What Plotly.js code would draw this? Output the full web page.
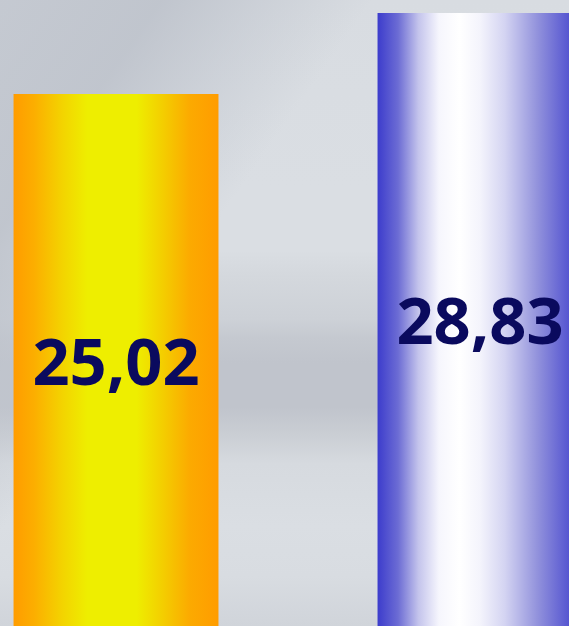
<!DOCTYPE html>
<html>
<head>
<meta charset="utf-8">
<script src="https://cdn.plot.ly/plotly-3.0.1.min.js"></script>
<style>
html,body{margin:0;padding:0;overflow:hidden;width:569px;height:626px;}
#chart{width:569px;height:626px;
background:
 linear-gradient(125deg, rgba(190,195,204,0.75) 0%, rgba(188,193,202,0.85) 16%, rgba(192,197,206,0.5) 26%, rgba(192,197,206,0) 37%),
 linear-gradient(180deg,#d8dce1 0%,#dadee3 30%,#dadee3 40%,#d4d8dd 44%,#cdd1d7 51%,#c5c9d0 54%,#c0c4cc 58%,#c0c4cc 65%,#c9cdd3 69%,#d6dadf 74%,#dadee3 84%,#d8dce1 92%,#d0d4da 100%);}
</style>
</head>
<body>
<div id="chart"></div>
<script>
var categories = ["A", "B"];
var values = [25.02, 28.83];
var labels = ["25,02", "28,83"];

var gradients = [
  [[0,"#ff9c00"],[0.1,"#fcae00"],[0.24,"#f3d400"],[0.36,"#eeee00"],[0.6,"#eeee00"],[0.72,"#f3d000"],[0.86,"#fcaa00"],[1,"#ff9c00"]],
  [[0,"#3c3ccc"],[0.1,"#6c6cd4"],[0.2,"#c4c4ec"],[0.3,"#f6f6fd"],[0.4,"#ffffff"],[0.5,"#f4f4fc"],[0.62,"#d4d4f2"],[0.78,"#9292dc"],[1,"#3c3ccc"]]
];

var trace = {
  type: "bar",
  x: categories,
  y: values,
  text: labels,
  textposition: "inside",
  insidetextanchor: "middle",
  textangle: 0,
  constraintext: "none",
  insidetextfont: {family: "Noto Sans, Open Sans, sans-serif", size: 65, color: "#0a0a5e", weight: "bold"},
  marker: {color: ["#ffa000", "#3c3ccc"], line: {width: 0}},
  hoverinfo: "none"
};

var layout = {
  width: 569, height: 626,
  margin: {l: 0, r: 0, t: 0, b: 0, pad: 0},
  paper_bgcolor: "rgba(0,0,0,0)",
  plot_bgcolor: "rgba(0,0,0,0)",
  showlegend: false,
  bargap: 0.437,
  xaxis: {visible: false, range: [-0.3187, 1.2445], type: "category"},
  yaxis: {visible: false, range: [0, 29.44]}
};

Plotly.newPlot("chart", [trace], layout, {staticPlot: true, displayModeBar: false}).then(function(gd){
  var svg = gd.querySelector("svg.main-svg");
  var ns = "http://www.w3.org/2000/svg";
  var defs = document.createElementNS(ns, "defs");
  gradients.forEach(function(stops, i){
    var g = document.createElementNS(ns, "linearGradient");
    g.setAttribute("id", "barGrad" + i);
    g.setAttribute("x1", "0"); g.setAttribute("y1", "0");
    g.setAttribute("x2", "1"); g.setAttribute("y2", "0");
    stops.forEach(function(s){
      var st = document.createElementNS(ns, "stop");
      st.setAttribute("offset", s[0]);
      st.setAttribute("stop-color", s[1]);
      g.appendChild(st);
    });
    defs.appendChild(g);
  });
  svg.insertBefore(defs, svg.firstChild);
  var paths = gd.querySelectorAll(".trace.bars .point path");
  paths.forEach(function(p, i){ p.style.fill = "url(#barGrad" + i + ")"; });
});
</script>
</body>
</html>
